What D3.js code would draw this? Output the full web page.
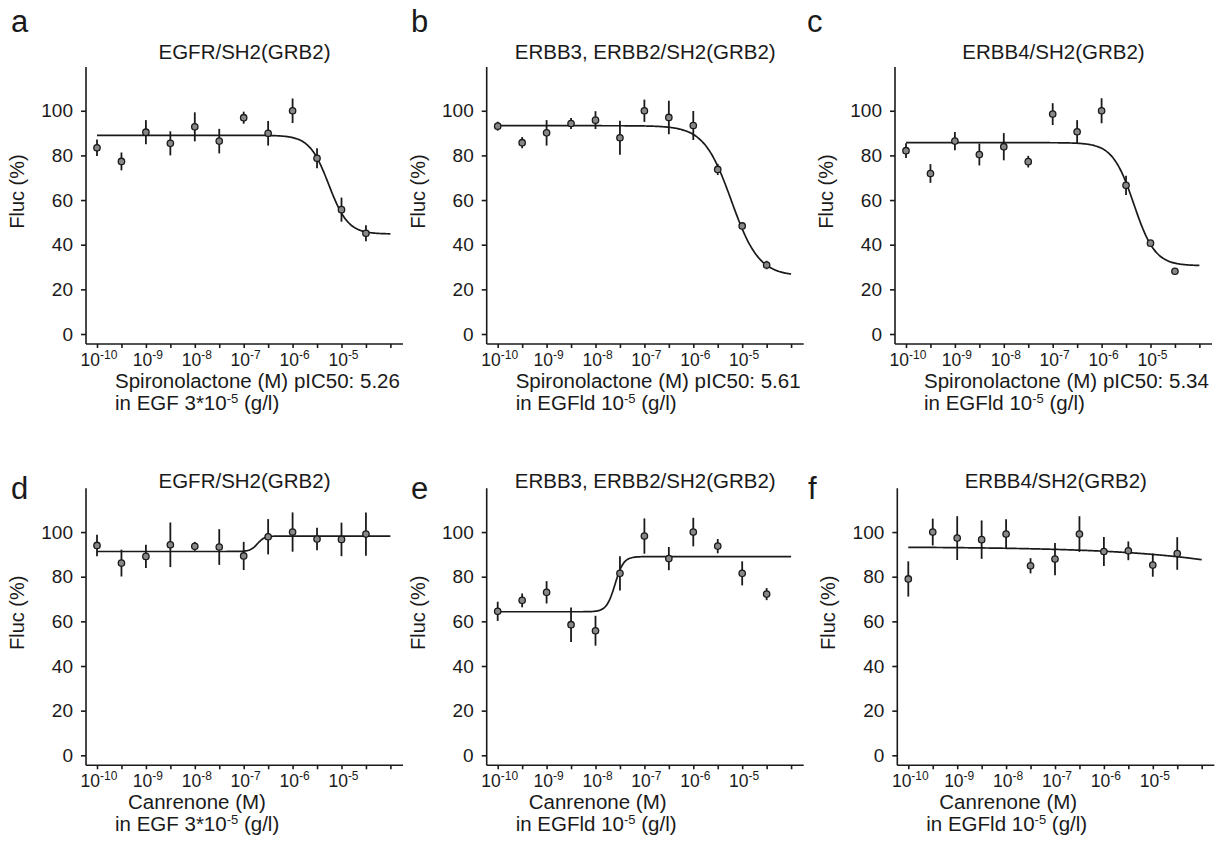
<!DOCTYPE html>
<html>
<head>
<meta charset="utf-8">
<script src="https://cdn.jsdelivr.net/npm/d3@7"></script>
<style>
  body { margin: 0; background: #fff; }
  svg text { font-family: "Liberation Sans", Arial, sans-serif; fill: #1a1a1a; }
</style>
</head>
<body>
<div id="chart"></div>
<script>
// log10 of concentration (M) for the 12 doses
const logConc = [-10, -9.5, -9, -8.5, -8, -7.5, -7, -6.5, -6, -5.5, -5, -4.5];
const xTickVals = [-10, -9.5, -9, -8.5, -8, -7.5, -7, -6.5, -6, -5.5, -5, -4.5, -4];
const xLabelExp = [-10, -9, -8, -7, -6, -5];
const yTicks = [0, 20, 40, 60, 80, 100];

const panelIds = ['a', 'b', 'c', 'd', 'e', 'f'];
const titles = ['EGFR/SH2(GRB2)', 'ERBB3, ERBB2/SH2(GRB2)', 'ERBB4/SH2(GRB2)',
                'EGFR/SH2(GRB2)', 'ERBB3, ERBB2/SH2(GRB2)', 'ERBB4/SH2(GRB2)'];
const xLabel1 = ['Spironolactone (M) pIC50: 5.26', 'Spironolactone (M) pIC50: 5.61', 'Spironolactone (M) pIC50: 5.34',
                 'Canrenone (M)', 'Canrenone (M)', 'Canrenone (M)'];
const xLabel2 = [['in EGF 3*10', '-5', ' (g/l)'], ['in EGFld 10', '-5', ' (g/l)'], ['in EGFld 10', '-5', ' (g/l)'],
                 ['in EGF 3*10', '-5', ' (g/l)'], ['in EGFld 10', '-5', ' (g/l)'], ['in EGFld 10', '-5', ' (g/l)']];

// Fluc (%) mean and error per panel
const aMean = [83.4, 77.3, 90.4, 85.4, 92.8, 86.4, 96.9, 89.9, 100, 78.7, 55.7, 45.1];
const aErr  = [3.7, 4, 5.4, 5.4, 6.5, 5.5, 2.7, 5.5, 5.5, 4.5, 5.4, 3.6];
const bMean = [93.1, 85.7, 90.1, 94.3, 95.8, 87.9, 100, 97, 93.4, 73.7, 48.4, 30.9];
const bErr  = [2, 2.5, 5.7, 2.5, 4, 7.6, 5, 7.5, 6.5, 2.5, 1.2, 1.9];
const cMean = [82.1, 71.9, 86.4, 80.4, 83.9, 77.2, 98.5, 90.6, 100, 66.6, 40.7, 28.1];
const cErr  = [3.3, 4.2, 4.1, 4.9, 6.1, 2.6, 4.9, 5.2, 5.6, 4.3, 1, 0.8];
const dMean = [94, 86.1, 89.1, 94.3, 93.6, 93.3, 89.3, 97.9, 100, 96.9, 96.7, 99.1];
const dErr  = [4.8, 6, 5.2, 10, 2, 8, 6.3, 7.9, 8.8, 5, 7.5, 9.7];
const eMean = [64.5, 69.4, 73, 58.5, 55.8, 81.5, 98.2, 88.1, 100, 93.7, 81.5, 72.2];
const eErr  = [4.3, 3.1, 5, 7.7, 6.7, 7.7, 7.9, 5.2, 6.4, 3.2, 5.4, 2.7];
const fMean = [79, 100, 97.3, 96.6, 99.1, 84.9, 87.9, 99.1, 91.3, 91.6, 85.2, 90.4];
const fErr  = [7.9, 6, 9.8, 8.6, 6.6, 3.4, 7.2, 8, 6.5, 4.2, 5.2, 7.3];

const means = [aMean, bMean, cMean, dMean, eMean, fMean];
const errs = [aErr, bErr, cErr, dErr, eErr, fErr];

// dose-response fit: start (low dose), end (high dose), log EC50, hill slope
const fitStart = [89, 93.3, 85.7, 91.3, 64.3, 93.4];
const fitEnd   = [44.8, 26, 30.6, 98.2, 89, 0];
const fitLogC  = [-5.26, -5.22, -5.34, -6.72, -7.6, 0.92];
const fitHill  = [2.2, 1.55, 2, 6, 5, 0.24];

// layout
const width = 1223;
const height = 846;
const plotW = 317;
const plotH = 277;
const panelLeft = [86, 486.7, 895, 86, 486.7, 897.3];
const panelTop = [67, 67, 67, 488.3, 488.3, 488.3];
const letterX = [11, 411, 807, 11, 411, 808];
const letterY = [32, 32, 32, 499, 499, 499];
const ink = '#1a1a1a';

const xScale = d3.scaleLinear().domain([-10.225, -3.742]).range([0, plotW]);
const yScale = d3.scaleLinear().domain([-4.48, 119.6]).range([plotH, 0]);

const svg = d3.select('#chart').append('svg')
    .attr('width', width)
    .attr('height', height);

const curve = d3.line()
    .x(d => xScale(d[0]))
    .y(d => yScale(d[1]))
    .curve(d3.curveBasis);

panelIds.forEach((id, i) => {
    const row = i < 3 ? 0 : 1;
    const g = svg.append('g')
        .attr('transform', `translate(${panelLeft[i]},${panelTop[i]})`);

    svg.append('text')
        .attr('x', letterX[i])
        .attr('y', letterY[i])
        .style('font-size', '31px')
        .text(id);

    g.append('text')
        .attr('x', plotW / 2)
        .attr('y', row === 0 ? -8 : 0)
        .attr('text-anchor', 'middle')
        .style('font-size', '20.5px')
        .text(titles[i]);

    // y axis
    const yAxis = g.append('g')
        .call(d3.axisLeft(yScale).tickValues(yTicks).tickSize(5).tickPadding(8));
    yAxis.select('.domain').attr('d', `M0,${plotH}V0`);
    yAxis.selectAll('path, line').attr('stroke', ink).attr('stroke-width', 1.6);
    yAxis.selectAll('text')
        .style('font-size', '19px')
        .style('font-family', '"Liberation Sans", Arial, sans-serif')
        .attr('fill', ink);

    g.append('text')
        .attr('transform', `translate(-62,${plotH / 2 - 14}) rotate(-90)`)
        .attr('text-anchor', 'middle')
        .style('font-size', '20px')
        .text('Fluc (%)');

    // x axis
    const xAxis = g.append('g')
        .attr('transform', `translate(0,${plotH})`)
        .call(d3.axisBottom(xScale).tickValues(xTickVals).tickSize(4).tickFormat(''));
    xAxis.select('.domain').attr('d', `M0,0H${plotW}`);
    xAxis.selectAll('path, line').attr('stroke', ink).attr('stroke-width', 1.6);

    const lab = g.append('g')
        .selectAll('text')
        .data(xLabelExp)
        .join('text')
        .attr('x', d => xScale(d) + 2)
        .attr('y', plotH + 22)
        .attr('text-anchor', 'middle')
        .style('font-size', '17.5px');
    lab.append('tspan').text('10');
    lab.append('tspan')
        .attr('dy', -7)
        .style('font-size', '12px')
        .text(d => String(d));

    g.append('text')
        .attr('x', row === 0 ? 29 : 42)
        .attr('y', plotH + 44)
        .style('font-size', '20.5px')
        .text(xLabel1[i]);

    const l2 = g.append('text')
        .attr('x', 29)
        .attr('y', plotH + 66)
        .style('font-size', '20.5px');
    l2.append('tspan').text(xLabel2[i][0]);
    l2.append('tspan').attr('dy', -7).style('font-size', '13px').text(xLabel2[i][1]);
    l2.append('tspan').attr('dy', 7).text(xLabel2[i][2]);

    // fitted curve
    const fitPts = d3.range(-10, -3.999, 0.02).map(L =>
        [L, fitEnd[i] + (fitStart[i] - fitEnd[i]) / (1 + Math.pow(10, fitHill[i] * (L - fitLogC[i])))]);
    g.append('path')
        .datum(fitPts)
        .attr('d', curve)
        .attr('fill', 'none')
        .attr('stroke', ink)
        .attr('stroke-width', 1.7);

    // error bars and points
    const pts = logConc.map((L, k) => ({L: L, m: means[i][k], e: errs[i][k]}));
    g.append('g')
        .selectAll('line')
        .data(pts)
        .join('line')
        .attr('x1', d => xScale(d.L))
        .attr('x2', d => xScale(d.L))
        .attr('y1', d => yScale(d.m - d.e))
        .attr('y2', d => yScale(d.m + d.e))
        .attr('stroke', ink)
        .attr('stroke-width', 1.8);
    g.append('g')
        .selectAll('circle')
        .data(pts)
        .join('circle')
        .attr('cx', d => xScale(d.L))
        .attr('cy', d => yScale(d.m))
        .attr('r', 3.2)
        .attr('fill', '#888')
        .attr('stroke', ink)
        .attr('stroke-width', 1.3);
});
</script>
</body>
</html>
